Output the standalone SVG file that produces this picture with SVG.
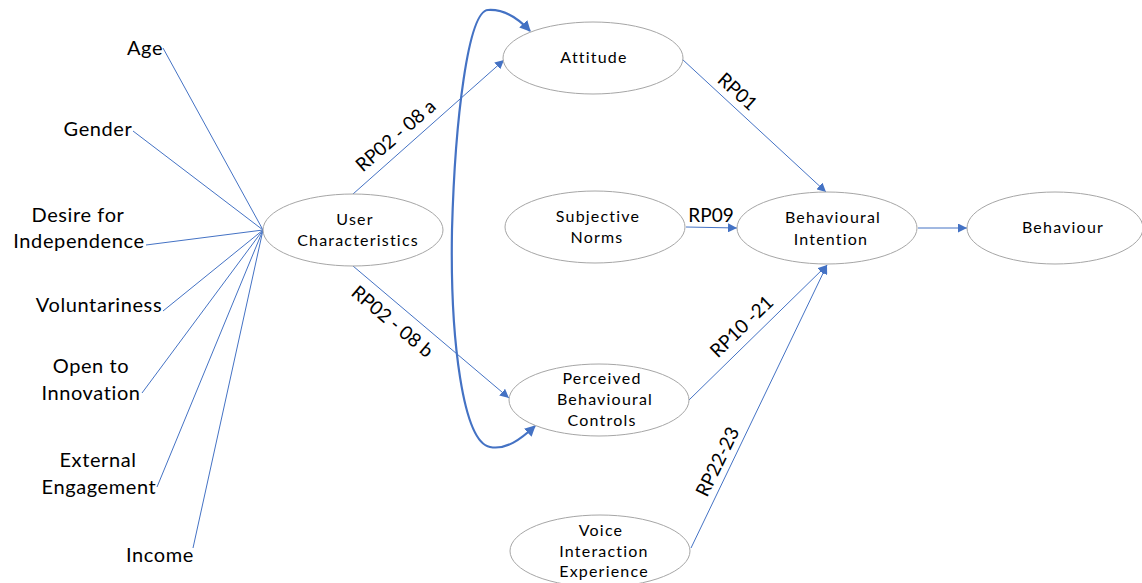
<svg xmlns="http://www.w3.org/2000/svg" width="1142" height="583" viewBox="0 0 1142 583">
  <style>
    .node ellipse { fill: #ffffff; stroke: #a6a6a6; stroke-width: 1; }
    .node text { font-family: Lato, "Liberation Sans", sans-serif; font-size: 16px; letter-spacing: 1.2px; fill: #000; text-anchor: middle; }
    .item text { font-family: Lato, "Liberation Sans", sans-serif; font-size: 20px; letter-spacing: 0.6px; fill: #000; text-anchor: middle; }
    .edge { fill: none; stroke: #4472c4; stroke-width: 1; }
    .arrow { marker-end: url(#head); }
    .loop { fill: none; stroke: #4472c4; stroke-width: 2.2; marker-start: url(#headBig); marker-end: url(#headBig); }
    .label { font-family: Lato, "Liberation Sans", sans-serif; font-size: 19px; fill: #000; text-anchor: middle; }
  </style>
  <defs>
    <marker id="head" viewBox="0 0 10 10" refX="10" refY="5" markerWidth="9" markerHeight="9" markerUnits="userSpaceOnUse" orient="auto">
      <path d="M0,0 L10,5 L0,10 Z" fill="#4472c4"/>
    </marker>
    <marker id="headBig" viewBox="0 0 10 10" refX="9" refY="5" markerWidth="11" markerHeight="11" markerUnits="userSpaceOnUse" orient="auto-start-reverse">
      <path d="M0,0 L10,5 L0,10 Z" fill="#4472c4"/>
    </marker>
  </defs>

  <!-- connectors -->
  <g id="connectors">
    <!-- characteristic spokes -->
    <line class="edge" x1="263" y1="230" x2="163" y2="48"/>
    <line class="edge" x1="263" y1="230" x2="133" y2="131"/>
    <line class="edge" x1="263" y1="230" x2="146" y2="245"/>
    <line class="edge" x1="263" y1="230" x2="163" y2="311"/>
    <line class="edge" x1="263" y1="230" x2="142" y2="393"/>
    <line class="edge" x1="263" y1="230" x2="157" y2="487"/>
    <line class="edge" x1="263" y1="230" x2="193" y2="548"/>
    <!-- model paths -->
    <line class="edge arrow" x1="353" y1="194" x2="504" y2="60"/>
    <line class="edge arrow" x1="353" y1="266" x2="509" y2="398"/>
    <line class="edge arrow" x1="682" y1="59" x2="826" y2="192"/>
    <line class="edge arrow" x1="686" y1="227" x2="737" y2="228"/>
    <line class="edge arrow" x1="689" y1="400" x2="827" y2="265"/>
    <line class="edge arrow" x1="691" y1="548" x2="827" y2="265"/>
    <line class="edge arrow" x1="918" y1="228" x2="967" y2="228"/>
    <!-- correlation between attitude and perceived controls -->
    <path class="loop" d="M530,31 C516,16 503,9 488,10 C468,11 455,120 452,230 C450,340 463,442 490,447 C506,450 520,440 535,426"/>
    <!-- path labels -->
    <text class="label" transform="translate(396,136) rotate(-41)" y="6">RP02 - 08 a</text>
    <text class="label" transform="translate(392,322) rotate(40)" y="6">RP02 - 08 b</text>
    <text class="label" transform="translate(737,92) rotate(42)" y="6">RP01</text>
    <text class="label" x="711" y="222">RP09</text>
    <text class="label" transform="translate(742,327) rotate(-44)" y="6">RP10 -21</text>
    <text class="label" transform="translate(718,462) rotate(-64)" y="6">RP22-23</text>
  </g>

  <!-- characteristic items -->
  <g id="age" class="item"><text x="145" y="55">Age</text></g>
  <g id="gender" class="item"><text x="98" y="136">Gender</text></g>
  <g id="desire" class="item"><text x="78" y="222">Desire for</text><text x="79" y="248">Independence</text></g>
  <g id="voluntariness" class="item"><text x="99" y="312">Voluntariness</text></g>
  <g id="innovation" class="item"><text x="91" y="373">Open to</text><text x="91" y="400">Innovation</text></g>
  <g id="engagement" class="item"><text x="98" y="467">External</text><text x="99" y="494">Engagement</text></g>
  <g id="income" class="item"><text x="160" y="562">Income</text></g>

  <!-- constructs -->
  <g id="user" class="node">
    <ellipse cx="353" cy="230" rx="90" ry="36"/>
    <text x="355" y="225">User</text>
    <text x="358" y="246">Characteristics</text>
  </g>
  <g id="attitude" class="node">
    <ellipse cx="593" cy="58" rx="90" ry="36"/>
    <text x="594" y="63">Attitude</text>
  </g>
  <g id="norms" class="node">
    <ellipse cx="595" cy="227" rx="90" ry="36"/>
    <text x="598" y="222">Subjective</text>
    <text x="597" y="243">Norms</text>
  </g>
  <g id="intention" class="node">
    <ellipse cx="827" cy="228" rx="90" ry="36"/>
    <text x="833" y="223">Behavioural</text>
    <text x="831" y="245">Intention</text>
  </g>
  <g id="behaviour" class="node">
    <ellipse cx="1055" cy="228" rx="88" ry="36"/>
    <text x="1063" y="233">Behaviour</text>
  </g>
  <g id="controls" class="node">
    <ellipse cx="599" cy="400" rx="90" ry="36"/>
    <text x="602" y="384">Perceived</text>
    <text x="605" y="405">Behavioural</text>
    <text x="602" y="426">Controls</text>
  </g>
  <g id="voice" class="node">
    <ellipse cx="600" cy="551" rx="90" ry="36"/>
    <text x="601" y="536">Voice</text>
    <text x="604" y="557">Interaction</text>
    <text x="604" y="577">Experience</text>
  </g>
</svg>
